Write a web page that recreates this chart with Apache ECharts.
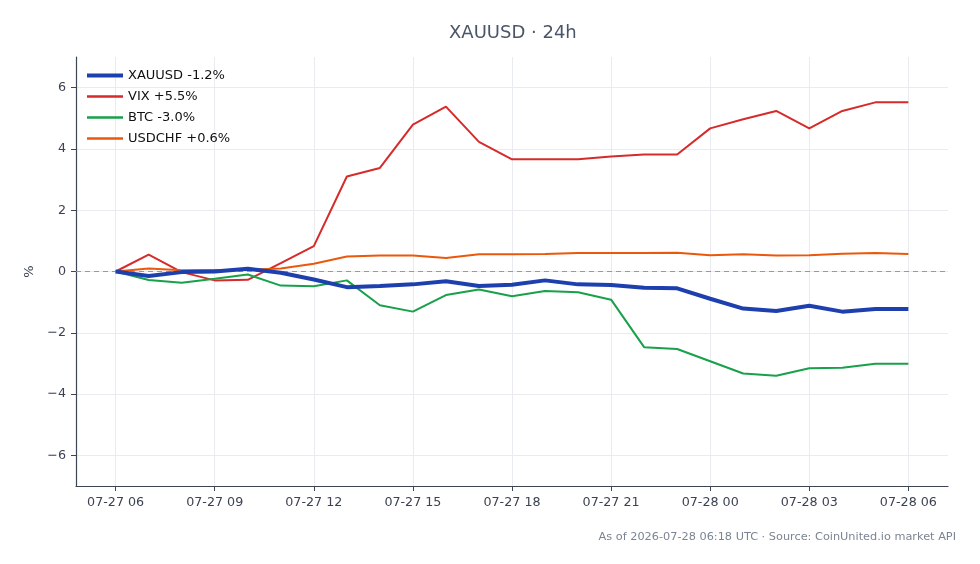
<!DOCTYPE html>
<html>
<head>
<meta charset="UTF-8">
<title>XAUUSD · 24h</title>
<script src="https://cdn.jsdelivr.net/npm/echarts@6/dist/echarts.min.js"></script>
<style>
  html, body { margin: 0; padding: 0; background: #fff; }
  #main { width: 980px; height: 564px; }
</style>
</head>
<body>
<div id="main"></div>
<script>
// hourly points, 07-27 06:00 -> 07-28 06:00 (UTC)
var times = ['07-27 06', '07-27 07', '07-27 08', '07-27 09', '07-27 10', '07-27 11', '07-27 12',
    '07-27 13', '07-27 14', '07-27 15', '07-27 16', '07-27 17', '07-27 18', '07-27 19', '07-27 20',
    '07-27 21', '07-27 22', '07-27 23', '07-28 00', '07-28 01', '07-28 02', '07-28 03', '07-28 04',
    '07-28 05', '07-28 06'];
var tickIdx = [0, 3, 6, 9, 12, 15, 18, 21, 24];
var yTicks = [-6, -4, -2, 0, 2, 4, 6];

var xauusd = [0, -0.15, -0.02, 0, 0.09, -0.04, -0.26, -0.51, -0.47, -0.42, -0.32, -0.47, -0.43,
    -0.29, -0.42, -0.44, -0.53, -0.55, -0.89, -1.21, -1.29, -1.12, -1.31, -1.22, -1.22];
var vix = [0, 0.55, -0.02, -0.29, -0.27, 0.27, 0.83, 3.10, 3.38, 4.79, 5.38, 4.23, 3.66,
    3.66, 3.66, 3.75, 3.82, 3.82, 4.67, 4.97, 5.24, 4.67, 5.24, 5.52, 5.52];
var btc = [0, -0.28, -0.37, -0.24, -0.10, -0.46, -0.48, -0.29, -1.10, -1.31, -0.77, -0.59, -0.81,
    -0.64, -0.68, -0.92, -2.47, -2.53, -2.93, -3.33, -3.40, -3.16, -3.14, -3.01, -3.01];
var usdchf = [0, 0.10, 0.04, 0.05, 0.06, 0.10, 0.25, 0.49, 0.52, 0.52, 0.44, 0.56, 0.56,
    0.57, 0.60, 0.60, 0.60, 0.61, 0.53, 0.56, 0.52, 0.53, 0.58, 0.60, 0.57];

var names = ['XAUUSD -1.2%', 'VIX +5.5%', 'BTC -3.0%', 'USDCHF +0.6%'];
var colors = ['#1e40af', '#d62b2b', '#18a04a', '#ea580c'];
var widths = [4, 2, 2, 2];

function pts(arr) {
    return arr.map(function (v, i) { return [i, v]; });
}

var myChart = echarts.init(document.getElementById('main'));

var font = 'DejaVu Sans';

var option = {
    animation: false,
    textStyle: { fontFamily: font },
    title: [{
        text: 'XAUUSD · 24h',
        left: 444,
        top: 19,
        textStyle: { fontFamily: font, fontSize: 18, fontWeight: 'normal', color: '#4a5568' }
    }, {
        text: 'As of 2026-07-28 06:18 UTC · Source: CoinUnited.io market API',
        right: 19,
        top: 527,
        textStyle: { fontFamily: font, fontSize: 11.3, fontWeight: 'normal', color: '#7b8494' }
    }],
    legend: {
        orient: 'vertical',
        left: 80,
        top: 64,
        itemWidth: 36,
        itemHeight: 12,
        itemGap: 8,
        data: names.map(function (n, i) {
            return { name: n, lineStyle: { width: widths[i] === 4 ? 4 : 2.5, color: colors[i] } };
        }),
        itemStyle: { opacity: 0 },
        textStyle: { fontFamily: font, fontSize: 13, color: '#111' }
    },
    grid: { left: 76, right: 32, top: 57, bottom: 78 },
    xAxis: {
        type: 'value',
        min: -1.2,
        max: 25.2,
        axisLine: { show: true, onZero: false, lineStyle: { color: '#3d4654', width: 1.2 } },
        axisTick: { show: true, length: 5, customValues: tickIdx, lineStyle: { color: '#3d4654' } },
        axisLabel: {
            customValues: tickIdx,
            color: '#3b4252',
            fontSize: 12.7,
            margin: 10,
            formatter: function (v) { return times[Math.round(v)]; }
        },
        splitLine: { show: true, lineStyle: { color: '#e8ebf0', width: 1 } }
    },
    yAxis: {
        type: 'value',
        min: -7,
        max: 7,
        name: '%',
        nameLocation: 'middle',
        nameGap: 40,
        nameRotate: 90,
        nameTextStyle: { fontFamily: font, fontSize: 13, color: '#3b4252' },
        axisLine: { show: true, onZero: false, lineStyle: { color: '#3d4654', width: 1.2 } },
        axisTick: { show: true, length: 5, customValues: yTicks, lineStyle: { color: '#3d4654' } },
        axisLabel: {
            customValues: yTicks,
            color: '#3b4252',
            fontSize: 12.7,
            margin: 10,
            formatter: function (v) { return v < 0 ? '\u2212' + Math.abs(v) : String(v); }
        },
        splitLine: { show: true, lineStyle: { color: '#e8ebf0', width: 1 } }
    },
    series: [
        {
            name: names[0], type: 'line', data: pts(xauusd), z: 5,
            symbol: 'none', lineStyle: { width: widths[0], color: colors[0] }, itemStyle: { color: colors[0] },
            markLine: {
                silent: true, symbol: 'none', label: { show: false },
                lineStyle: { type: [5, 4], color: '#8c9ab4', width: 1 },
                data: [{ yAxis: 0 }]
            }
        },
        {
            name: names[1], type: 'line', data: pts(vix), z: 3,
            symbol: 'none', lineStyle: { width: widths[1], color: colors[1] }, itemStyle: { color: colors[1] }
        },
        {
            name: names[2], type: 'line', data: pts(btc), z: 3,
            symbol: 'none', lineStyle: { width: widths[2], color: colors[2] }, itemStyle: { color: colors[2] }
        },
        {
            name: names[3], type: 'line', data: pts(usdchf), z: 3,
            symbol: 'none', lineStyle: { width: widths[3], color: colors[3] }, itemStyle: { color: colors[3] }
        }
    ]
};

myChart.setOption(option);
</script>
</body>
</html>
